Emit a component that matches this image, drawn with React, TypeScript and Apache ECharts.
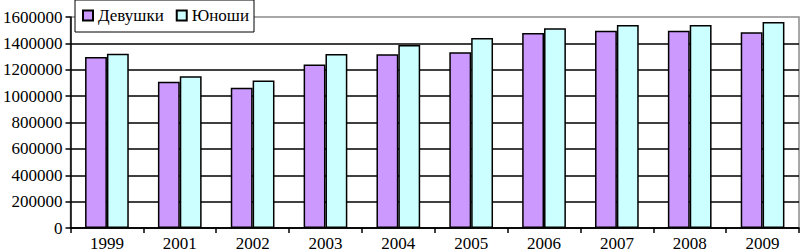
import React, { useEffect, useRef } from "react";
import * as echarts from "echarts";

const categories = ["1999", "2001", "2002", "2003", "2004", "2005", "2006", "2007", "2008", "2009"];
const girls = [1297000, 1109000, 1064000, 1239000, 1317000, 1332000, 1478000, 1495000, 1495000, 1485000];
const boys = [1322000, 1151000, 1119000, 1320000, 1388000, 1440000, 1515000, 1540000, 1540000, 1562000];
const seriesNames = ["Девушки", "Юноши"];

const FONT = "Liberation Serif";

export default function App() {
  const ref = useRef<HTMLDivElement>(null);
  useEffect(() => {
    if (!ref.current) return;
    const chart = echarts.init(ref.current, null, { renderer: "svg" });
    chart.setOption({
      animation: false,
      backgroundColor: "#ffffff",
      textStyle: { fontFamily: FONT },
      grid: {
        left: 67,
        right: 1,
        top: 17,
        bottom: 22,
        show: true,
        borderColor: "#8c8c8c",
        borderWidth: 1.5,
        backgroundColor: "transparent",
      },
      legend: {
        left: 75,
        top: 0,
        orient: "horizontal",
        itemWidth: 10,
        itemHeight: 10,
        itemGap: 12,
        icon: "rect",
        padding: [7, 5, 8, 7],
        backgroundColor: "#ffffff",
        borderColor: "#000000",
        borderWidth: 1,
        textStyle: { fontFamily: FONT, fontSize: 17, color: "#000000" },
        data: seriesNames,
      },
      xAxis: {
        type: "category",
        data: categories,
        boundaryGap: true,
        axisLine: { lineStyle: { color: "#000000", width: 1.5 } },
        axisTick: { show: true, length: 5, lineStyle: { color: "#000000", width: 1.5 } },
        axisLabel: { fontFamily: FONT, fontSize: 17, color: "#000000", margin: 7 },
      },
      yAxis: {
        type: "value",
        min: 0,
        max: 1600000,
        interval: 200000,
        axisLine: { show: true, lineStyle: { color: "#000000", width: 1.5 } },
        axisTick: { show: true, length: 5, lineStyle: { color: "#000000", width: 1.5 } },
        axisLabel: {
          fontFamily: FONT,
          fontSize: 17,
          color: "#000000",
          margin: 8,
          formatter: (v: number) => String(v),
        },
        splitLine: { show: true, showMaxLine: false, lineStyle: { color: "#000000", width: 1.5 } },
      },
      series: [
        {
          name: seriesNames[0],
          type: "bar",
          data: girls,
          barGap: "0%",
          barCategoryGap: "40%",
          itemStyle: { color: "#CC99FF", borderColor: "#000000", borderWidth: 1.5 },
        },
        {
          name: seriesNames[1],
          type: "bar",
          data: boys,
          barGap: "0%",
          barCategoryGap: "40%",
          itemStyle: { color: "#CCFFFF", borderColor: "#000000", borderWidth: 1.5 },
        },
      ],
    });
    return () => chart.dispose();
  }, []);
  return (
    <div
      ref={ref}
      style={{ position: "absolute", left: 0, top: 0, width: 800, height: 252 }}
    />
  );
}
